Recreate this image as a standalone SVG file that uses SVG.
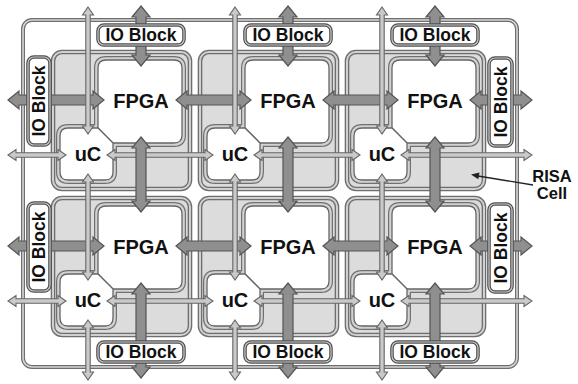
<svg xmlns="http://www.w3.org/2000/svg" xmlns:xlink="http://www.w3.org/1999/xlink" width="578" height="384" viewBox="0 0 578 384">
<style>
.board{fill:#fff;stroke:#6e6e6e;stroke-width:4}
.boardband{fill:none;stroke:#d6d6d6;stroke-width:1.6}
.cell{fill:#dcdcdc;stroke:#6e6e6e;stroke-width:4.6}
.cellband{fill:none;stroke:#d0d0d0;stroke-width:2}
.h1{fill:none;stroke:#707070;stroke-width:8;stroke-linejoin:round}
.h2{fill:none;stroke:#d2d2d2;stroke-width:5.6;stroke-linejoin:round}
.core{fill:#fff;stroke:#666;stroke-width:1.3}
.io{fill:#fff;stroke:#505050;stroke-width:3.6}
.ioband{fill:none;stroke:#c8c8c8;stroke-width:1.2}
.thick{fill:#8f8f8f;stroke:#555;stroke-width:1.2}
.thin{fill:#cacaca;stroke:#666;stroke-width:1.1}
text{font-family:"Liberation Sans",Arial,sans-serif;font-weight:bold;fill:#111;text-anchor:middle}
.big{font-size:20px}
.lbl{font-size:17.5px}
.note{font-size:16.5px}
</style>
<defs>
<path id="fp" d="M51,8 H119 Q127,8 127,16 V83 Q127,91 119,91 H58 L43,76 V16 Q43,8 51,8 Z"/>
<path id="uc" d="M13,76 H43 L58,91 V120 Q58,128 50,128 H13 Q5,128 5,120 V84 Q5,76 13,76 Z"/>
<g id="cellBody">
<rect class="cell" x="-2" y="0" width="137" height="137" rx="9"/>
<rect class="cellband" x="-2" y="0" width="137" height="137" rx="9"/>
<use xlink:href="#fp" class="h1"/><use xlink:href="#uc" class="h1"/>
<use xlink:href="#fp" class="h2"/><use xlink:href="#uc" class="h2"/>
<use xlink:href="#fp" class="core"/><use xlink:href="#uc" class="core"/>
</g>
</defs>

<g id="board">
<rect class="board" x="23" y="20" width="494" height="347" rx="9"/>
<rect class="boardband" x="23" y="20" width="494" height="347" rx="9"/>
</g>

<g id="cell-1-1" transform="translate(55,52)"><use xlink:href="#cellBody"/><text class="big" x="86" y="56">FPGA</text><text class="big" x="33" y="109">uC</text></g>
<g id="cell-1-2" transform="translate(202,52)"><use xlink:href="#cellBody"/><text class="big" x="86" y="56">FPGA</text><text class="big" x="33" y="109">uC</text></g>
<g id="cell-1-3" transform="translate(349,52)"><use xlink:href="#cellBody"/><text class="big" x="86" y="56">FPGA</text><text class="big" x="33" y="109">uC</text></g>
<g id="cell-2-1" transform="translate(55,198)"><use xlink:href="#cellBody"/><text class="big" x="86" y="56">FPGA</text><text class="big" x="33" y="109">uC</text></g>
<g id="cell-2-2" transform="translate(202,198)"><use xlink:href="#cellBody"/><text class="big" x="86" y="56">FPGA</text><text class="big" x="33" y="109">uC</text></g>
<g id="cell-2-3" transform="translate(349,198)"><use xlink:href="#cellBody"/><text class="big" x="86" y="56">FPGA</text><text class="big" x="33" y="109">uC</text></g>

<g id="connectors">
<!-- thick horizontal, row 1 -->
<polygon class="thick" points="8,100 19,91 19,95 93,95 93,91 104,100 93,109 93,105 19,105 19,109"/>
<polygon class="thick" points="176,100 187,91 187,95 240,95 240,91 251,100 240,109 240,105 187,105 187,109"/>
<polygon class="thick" points="323,100 334,91 334,95 387,95 387,91 398,100 387,109 387,105 334,105 334,109"/>
<polygon class="thick" points="470,100 481,91 481,95 521,95 521,91 532,100 521,109 521,105 481,105 481,109"/>
<!-- thick horizontal, row 2 -->
<polygon class="thick" points="8,246 19,237 19,241 93,241 93,237 104,246 93,255 93,251 19,251 19,255"/>
<polygon class="thick" points="176,246 187,237 187,241 240,241 240,237 251,246 240,255 240,251 187,251 187,255"/>
<polygon class="thick" points="323,246 334,237 334,241 387,241 387,237 398,246 387,255 387,251 334,251 334,255"/>
<polygon class="thick" points="470,246 481,237 481,241 521,241 521,237 532,246 521,255 521,251 481,251 481,255"/>
<!-- thin vertical -->
<polygon class="thin" points="88,7 93.5,15 90.2,15 90.2,126 93.5,126 88,134 82.5,126 85.8,126 85.8,15 82.5,15"/>
<polygon class="thin" points="88,174 93.5,182 90.2,182 90.2,272 93.5,272 88,280 82.5,272 85.8,272 85.8,182 82.5,182"/>
<polygon class="thin" points="88,320 93.5,328 90.2,328 90.2,372 93.5,372 88,380 82.5,372 85.8,372 85.8,328 82.5,328"/>
<polygon class="thin" points="235,7 240.5,15 237.2,15 237.2,126 240.5,126 235,134 229.5,126 232.8,126 232.8,15 229.5,15"/>
<polygon class="thin" points="235,174 240.5,182 237.2,182 237.2,272 240.5,272 235,280 229.5,272 232.8,272 232.8,182 229.5,182"/>
<polygon class="thin" points="235,320 240.5,328 237.2,328 237.2,372 240.5,372 235,380 229.5,372 232.8,372 232.8,328 229.5,328"/>
<polygon class="thin" points="382,7 387.5,15 384.2,15 384.2,126 387.5,126 382,134 376.5,126 379.8,126 379.8,15 376.5,15"/>
<polygon class="thin" points="382,174 387.5,182 384.2,182 384.2,272 387.5,272 382,280 376.5,272 379.8,272 379.8,182 376.5,182"/>
<polygon class="thin" points="382,320 387.5,328 384.2,328 384.2,372 387.5,372 382,380 376.5,372 379.8,372 379.8,328 376.5,328"/>
<!-- thin horizontal -->
<polygon class="thin" points="8,155 16,149.5 16,152.8 58,152.8 58,149.5 66,155 58,160.5 58,157.2 16,157.2 16,160.5"/>
<polygon class="thin" points="107,155 115,149.5 115,152.8 205,152.8 205,149.5 213,155 205,160.5 205,157.2 115,157.2 115,160.5"/>
<polygon class="thin" points="254,155 262,149.5 262,152.8 352,152.8 352,149.5 360,155 352,160.5 352,157.2 262,157.2 262,160.5"/>
<polygon class="thin" points="401,155 409,149.5 409,152.8 524,152.8 524,149.5 532,155 524,160.5 524,157.2 409,157.2 409,160.5"/>
<polygon class="thin" points="8,301 16,295.5 16,298.8 58,298.8 58,295.5 66,301 58,306.5 58,303.2 16,303.2 16,306.5"/>
<polygon class="thin" points="107,301 115,295.5 115,298.8 205,298.8 205,295.5 213,301 205,306.5 205,303.2 115,303.2 115,306.5"/>
<polygon class="thin" points="254,301 262,295.5 262,298.8 352,298.8 352,295.5 360,301 352,306.5 352,303.2 262,303.2 262,306.5"/>
<polygon class="thin" points="401,301 409,295.5 409,298.8 524,298.8 524,295.5 532,301 524,306.5 524,303.2 409,303.2 409,306.5"/>
<!-- thick vertical -->
<polygon class="thick" points="141,6 150,17 146,17 146,55 150,55 141,66 132,55 136,55 136,17 132,17"/>
<polygon class="thick" points="141,137 150,148 146,148 146,201 150,201 141,212 132,201 136,201 136,148 132,148"/>
<polygon class="thick" points="141,283 150,294 146,294 146,367 150,367 141,378 132,367 136,367 136,294 132,294"/>
<polygon class="thick" points="288,6 297,17 293,17 293,55 297,55 288,66 279,55 283,55 283,17 279,17"/>
<polygon class="thick" points="288,137 297,148 293,148 293,201 297,201 288,212 279,201 283,201 283,148 279,148"/>
<polygon class="thick" points="288,283 297,294 293,294 293,367 297,367 288,378 279,367 283,367 283,294 279,294"/>
<polygon class="thick" points="435,6 444,17 440,17 440,55 444,55 435,66 426,55 430,55 430,17 426,17"/>
<polygon class="thick" points="435,137 444,148 440,148 440,201 444,201 435,212 426,201 430,201 430,148 426,148"/>
<polygon class="thick" points="435,283 444,294 440,294 440,367 444,367 435,378 426,367 430,367 430,294 426,294"/>
<!-- RISA cell pointer -->
<line x1="533" y1="185" x2="478" y2="176" stroke="#222" stroke-width="1.3"/>
<polygon points="471,174.5 479.5,172.4 478.3,179.3" fill="#222"/>
</g>

<g id="io-top-1"><rect class="io" x="98" y="25" width="86" height="20" rx="6"/><rect class="ioband" x="98" y="25" width="86" height="20" rx="6"/><text class="lbl" x="141" y="41.3">IO Block</text></g>
<g id="io-top-2"><rect class="io" x="245" y="25" width="86" height="20" rx="6"/><rect class="ioband" x="245" y="25" width="86" height="20" rx="6"/><text class="lbl" x="288" y="41.3">IO Block</text></g>
<g id="io-top-3"><rect class="io" x="392" y="25" width="86" height="20" rx="6"/><rect class="ioband" x="392" y="25" width="86" height="20" rx="6"/><text class="lbl" x="435" y="41.3">IO Block</text></g>
<g id="io-bottom-1"><rect class="io" x="98" y="342" width="86" height="20" rx="6"/><rect class="ioband" x="98" y="342" width="86" height="20" rx="6"/><text class="lbl" x="141" y="358.3">IO Block</text></g>
<g id="io-bottom-2"><rect class="io" x="245" y="342" width="86" height="20" rx="6"/><rect class="ioband" x="245" y="342" width="86" height="20" rx="6"/><text class="lbl" x="288" y="358.3">IO Block</text></g>
<g id="io-bottom-3"><rect class="io" x="392" y="342" width="86" height="20" rx="6"/><rect class="ioband" x="392" y="342" width="86" height="20" rx="6"/><text class="lbl" x="435" y="358.3">IO Block</text></g>
<g id="io-left-1"><rect class="io" x="28" y="57" width="22" height="88" rx="6"/><rect class="ioband" x="28" y="57" width="22" height="88" rx="6"/><text class="lbl" transform="translate(45.3,101) rotate(-90)">IO Block</text></g>
<g id="io-left-2"><rect class="io" x="28" y="203" width="22" height="88" rx="6"/><rect class="ioband" x="28" y="203" width="22" height="88" rx="6"/><text class="lbl" transform="translate(45.3,247) rotate(-90)">IO Block</text></g>
<g id="io-right-1"><rect class="io" x="489" y="58" width="23" height="88" rx="6"/><rect class="ioband" x="489" y="58" width="23" height="88" rx="6"/><text class="lbl" transform="translate(506.8,102) rotate(-90)">IO Block</text></g>
<g id="io-right-2"><rect class="io" x="489" y="204" width="23" height="88" rx="6"/><rect class="ioband" x="489" y="204" width="23" height="88" rx="6"/><text class="lbl" transform="translate(506.8,248) rotate(-90)">IO Block</text></g>

<g id="risa-label"><text class="note" x="552" y="182">RISA</text><text class="note" x="552" y="199">Cell</text></g>
</svg>
